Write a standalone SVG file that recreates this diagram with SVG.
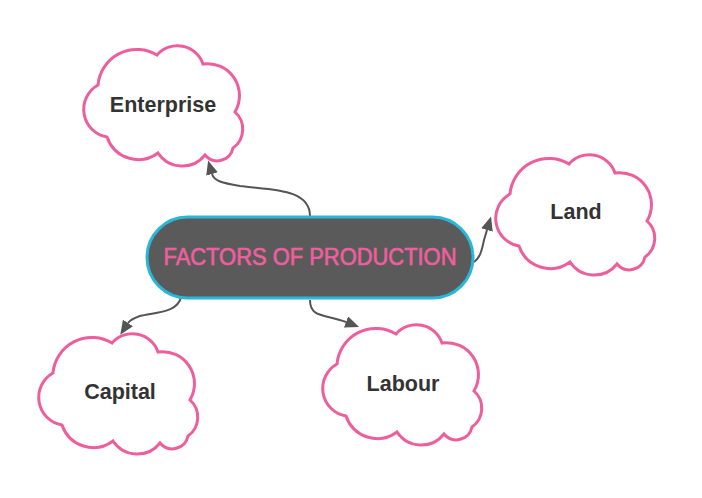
<svg xmlns="http://www.w3.org/2000/svg" xmlns:xlink="http://www.w3.org/1999/xlink" width="702" height="498" viewBox="0 0 702 498">
<style>
.cloud{fill:#ffffff;stroke:#ee5e9c;stroke-width:3}
.lbl{font-family:"Liberation Sans",Arial,sans-serif;font-weight:bold;font-size:21.5px;fill:#333333;text-anchor:middle}
.conn{fill:none;stroke:#555555;stroke-width:2;marker-end:url(#arrow)}
.pill{fill:#5a5a5a;stroke:#2ab6d8;stroke-width:3}
.title{font-family:"Liberation Sans",Arial,sans-serif;font-size:23px;fill:#ef5f9f;stroke:#ef5f9f;stroke-width:0.6;text-anchor:middle}
</style>
<defs>
<marker id="arrow" markerUnits="userSpaceOnUse" markerWidth="14" markerHeight="12" refX="0" refY="6" orient="auto">
<path d="M0,0 L14,6 L0,12 z" fill="#555555"/>
</marker>
<path id="cloudShape" d="M15,40 A39,39 0 0 1 74,10 A27,27 0 0 1 120,19 A32,32 0 0 1 152,67 A23,23 0 0 1 150,103 A16,16 0 0 1 122,110 A29,29 0 0 1 75,108 A33,33 0 0 1 24,92 A28,28 0 0 1 15,40 Z"/>
</defs>
<g id="connectors">
<path class="conn" d="M310,216 C310,188 270,190 240,186 C222,183 214,181 212,174"/>
<path class="conn" d="M474,262 C480,258 482,250 484,240 L487,230"/>
<path class="conn" d="M181,297 C178,312 158,312 140,316 C134,318 130,320 128,323"/>
<path class="conn" d="M310,300 C310,318 325,314 346,322"/>
</g>
<g id="center">
<rect class="pill" x="147" y="217" width="326" height="81" rx="40.5" ry="40.5"/>
<text class="title" x="310" y="265" textLength="293" lengthAdjust="spacingAndGlyphs">FACTORS OF PRODUCTION</text>
</g>
<g id="enterprise">
<use href="#cloudShape" class="cloud" x="83" y="45"/>
<text class="lbl" x="163" y="112">Enterprise</text>
</g>
<g id="land">
<use href="#cloudShape" class="cloud" x="495" y="154"/>
<text class="lbl" x="576" y="219">Land</text>
</g>
<g id="capital">
<use href="#cloudShape" class="cloud" x="38" y="333"/>
<text class="lbl" x="120" y="399">Capital</text>
</g>
<g id="labour">
<use href="#cloudShape" class="cloud" x="322" y="324"/>
<text class="lbl" x="403" y="391">Labour</text>
</g>
</svg>
